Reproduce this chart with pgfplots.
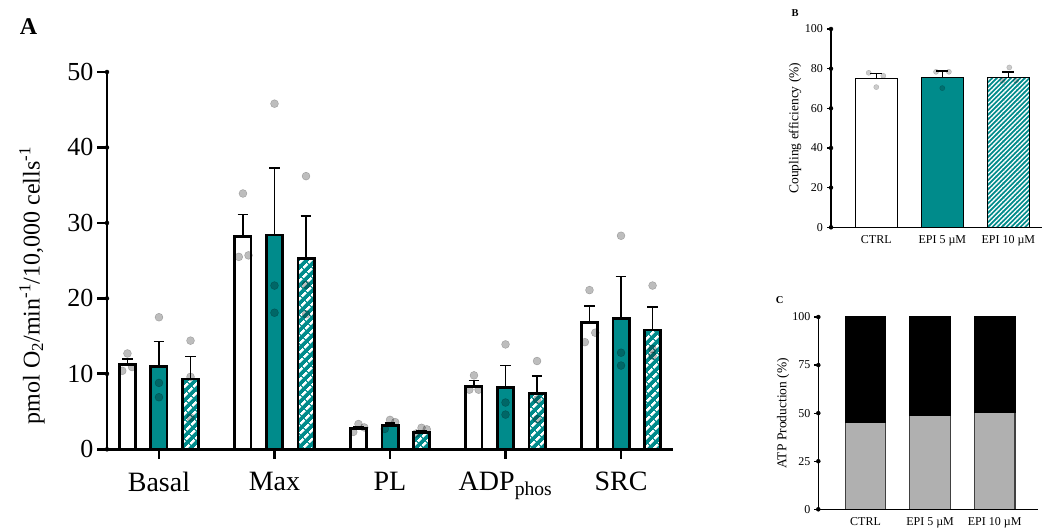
\documentclass[border=0pt]{standalone}
\usepackage{fontspec}
\setmainfont{Liberation Serif}
\usepackage{pgfplots}
\pgfplotsset{compat=1.18}
\usetikzlibrary{patterns.meta}

\definecolor{tealc}{RGB}{0,139,139}
\definecolor{bargray}{RGB}{176,176,176}

\pgfplotsset{
  dots/.style={only marks, mark=*, mark size=#1,
    mark options={draw=none, fill=black, opacity=0.26}},
  ebarA/.style={error bars/.cd, y dir=plus, y explicit,
    error bar style={line width=1.6pt, black},
    error mark=|, error mark options={line width=1.6pt, mark size=5.3pt, black}},
  ebarB/.style={error bars/.cd, y dir=plus, y explicit,
    error bar style={line width=1.3pt, black},
    error mark=|, error mark options={line width=1.3pt, mark size=6pt, black}},
  % tick marks as short error bars hanging off the axis lines
  xtickbars/.style={only marks, mark=none, error bars/.cd, x dir=minus, x explicit,
    error mark=none, error bar style={line width=#1, black, solid}},
  hiddenframe/.style={axis x line=bottom, axis y line=left,
    axis line style={draw=none}, tick align=outside,
    tick style={draw=none}, clip=false,
    /pgf/number format/assume math mode=true},
}

\begin{document}
\begin{tikzpicture}

% ---------- panel A ----------
\begin{axis}[hiddenframe,
  at={(95pt,67.7pt)}, anchor=south west,
  scale only axis, width=578pt, height=391.3pt,
  xmin=-0.5539, xmax=4.45, ymin=-1.590, ymax=50.265,
  xtick={0,...,4},
  xticklabels={Basal,Max,PL,ADP\textsubscript{phos},SRC},
  ytick={0,10,...,50},
  major tick length=10pt,
  yticklabel style={font=\fontsize{26}{30}\selectfont, xshift=12pt},
  xticklabel style={font=\fontsize{28}{32}\selectfont, yshift=3pt},
  ylabel={pmol O\textsubscript{2}/min\textsuperscript{-1}/10,000 cells\textsuperscript{-1}},
  ylabel style={font=\fontsize{24}{28}\selectfont,
    at={(rel axis cs:-0.109,0.4493)}, anchor=center},
]
\addplot[ybar, bar width=16.3pt, bar shift=0pt, draw=black, line width=2.7pt,
  fill=white, ebarA]
  table[x index=0, y index=1, y error index=2] {
  -0.273 11.2  0.8
   0.727 28.2  2.9
   1.727 2.73  0.27
   2.727 8.3   0.8
   3.727 16.85 2.15
};
\addplot[ybar, bar width=16.3pt, bar shift=0pt, draw=black, line width=2.7pt,
  fill=tealc, ebarA]
  table[x index=0, y index=1, y error index=2] {
  0 10.95 3.35
  1 28.4  8.9
  2 3.17  0.33
  3 8.15  2.95
  4 17.3  5.6
};
\addplot[ybar, bar width=16.3pt, bar shift=0pt, draw=black, line width=2.7pt,
  preaction={fill=tealc},
  pattern={Lines[angle=45,distance=6.4pt,line width=2.6pt]}, pattern color=white,
  ebarA]
  table[x index=0, y index=1, y error index=2] {
  0.273 9.3   3.0
  1.273 25.25 5.65
  2.273 2.2   0.3
  3.273 7.4   2.35
  4.273 15.8  3.05
};
\addplot[dots=4pt] coordinates {
  (-0.273,12.7) (-0.318,10.4) (-0.233,10.9)
  (0,17.5) (0,8.8) (0,6.9)
  (0.273,14.4) (0.273,9.6) (0.273,4.2)
  (0.727,33.9) (0.691,25.5) (0.775,25.7)
  (1,45.8) (1,21.7) (1,18.1)
  (1.273,36.2) (1.273,21.8) (1.273,17.9)
  (1.727,3.35) (1.682,2.3) (1.777,2.9)
  (2,3.9) (2.045,3.6) (1.955,2.7)
  (2.273,2.85) (2.318,2.65) (2.228,2.1)
  (2.727,9.8) (2.687,7.9) (2.767,7.9)
  (3,13.9) (3,6.2) (3,4.6)
  (3.273,11.7) (3.273,6.6) (3.273,4.0)
  (3.727,21.1) (3.777,15.45) (3.687,14.2)
  (4,28.3) (4,12.8) (4,11.1)
  (4.273,21.7) (4.273,13.3) (4.273,12.4)
};
% axis lines and ticks
\addplot[black, line width=2.7pt, mark=none] coordinates {(-0.45,50) (-0.45,0) (4.45,0)};
\addplot[xtickbars=2.7pt] table[x index=0, y index=1, x error index=2] {
  -0.45 0  0.0866
  -0.45 10 0.0866
  -0.45 20 0.0866
  -0.45 30 0.0866
  -0.45 40 0.0866
  -0.45 50 0.0866
};
\addplot[only marks, mark=|, mark size=5pt, mark options={line width=2.7pt, black}]
  coordinates {(0,-0.6625) (1,-0.6625) (2,-0.6625) (3,-0.6625) (4,-0.6625)};
\end{axis}

% ---------- panel B ----------
\begin{axis}[hiddenframe,
  at={(825pt,298.7pt)}, anchor=south west,
  scale only axis, width=216.7pt, height=203.3pt,
  xmin=-0.7769, xmax=2.506, ymin=-1.513, ymax=101.01,
  xtick={0,1,2}, xticklabels={CTRL,EPI 5 µM,EPI 10 µM},
  ytick={0,20,...,100},
  major tick length=4.5pt,
  yticklabel style={font=\fontsize{12}{14}\selectfont, xshift=6pt},
  xticklabel style={font=\fontsize{12}{14}\selectfont, yshift=3pt},
  ylabel={Coupling efficiency (\%)},
  ylabel style={font=\fontsize{13.5}{16}\selectfont,
    at={(rel axis cs:-0.1384,0.5025)}, anchor=center},
]
\addplot[ybar, bar width=42pt, bar shift=0pt, draw=black, line width=1.3pt,
  fill=white, ebarB]
  table[x index=0, y index=1, y error index=2] {
  0 74.9 2.5
};
\addplot[ybar, bar width=42pt, bar shift=0pt, draw=black, line width=1.3pt,
  fill=tealc, ebarB]
  table[x index=0, y index=1, y error index=2] {
  1 75.6 3.2
};
\addplot[ybar, bar width=42pt, bar shift=0pt, draw=black, line width=1.3pt,
  preaction={fill=tealc},
  pattern={Lines[angle=45,distance=3.3pt,line width=1.3pt]}, pattern color=white,
  ebarB]
  table[x index=0, y index=1, y error index=2] {
  2 75.6 2.7
};
\addplot[dots=2.6pt, mark options={opacity=0.2}] coordinates {
  (-0.115,77.9) (0.106,76.4) (0,70.7)
  (0.905,78.4) (1.10,78.4) (1,70.2)
  (2.015,80.6) (1.915,73.9) (2.117,73.9)
};
\addplot[black, line width=1.3pt, mark=none] coordinates {(-0.686,100) (-0.686,0) (2.506,0)};
\addplot[xtickbars=1.3pt] table[x index=0, y index=1, x error index=2] {
  -0.686 0   0.0652
  -0.686 20  0.0652
  -0.686 40  0.0652
  -0.686 60  0.0652
  -0.686 80  0.0652
  -0.686 100 0.0652
};
\end{axis}

% ---------- panel C ----------
\begin{axis}[hiddenframe,
  at={(812.3pt,16.7pt)}, anchor=south west,
  scale only axis, width=225.4pt, height=197.3pt,
  xmin=-0.8239, xmax=2.666, ymin=-1.560, ymax=101.04,
  xtick={0,1,2}, xticklabels={CTRL,EPI 5 µM,EPI 10 µM},
  ytick={0,25,...,100},
  major tick length=4.5pt,
  yticklabel style={font=\fontsize{12}{14}\selectfont, xshift=6pt},
  xticklabel style={font=\fontsize{12}{14}\selectfont, yshift=3pt},
  ylabel={ATP Production (\%)},
  ylabel style={font=\fontsize{13.5}{16}\selectfont,
    at={(rel axis cs:-0.130,0.5025)}, anchor=center},
]
\addplot[ybar stacked, bar width=40.5pt, fill=bargray, draw=black!75, line width=1.2pt]
  coordinates {(0,45) (1,48.7) (2,50.6)};
\addplot[ybar stacked, bar width=40.5pt, fill=black, draw=black, line width=1.2pt]
  coordinates {(0,55) (1,51.3) (2,49.4)};
\addplot[black, line width=1.3pt, mark=none] coordinates {(-0.731,100) (-0.731,0) (2.666,0)};
\addplot[xtickbars=1.3pt] table[x index=0, y index=1, x error index=2] {
  -0.731 0   0.0666
  -0.731 25  0.0666
  -0.731 50  0.0666
  -0.731 75  0.0666
  -0.731 100 0.0666
};
\end{axis}

\node[font=\fontsize{24}{28}\selectfont\bfseries] at (28.5pt,502pt) {A};
\node[font=\fontsize{10.5}{12}\selectfont\bfseries] at (795pt,515.7pt) {B};
\node[font=\fontsize{10.5}{12}\selectfont\bfseries] at (779.7pt,229pt) {C};
\path (0pt,0pt) rectangle (1043pt,529pt);
\end{tikzpicture}
\end{document}
